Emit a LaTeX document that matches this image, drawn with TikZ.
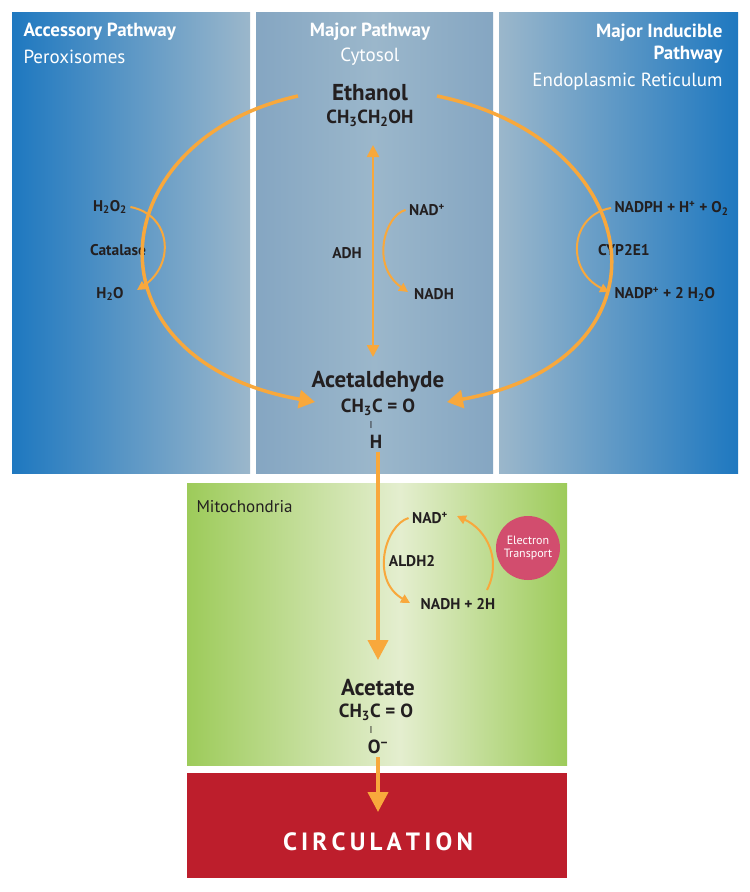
\documentclass[tikz,border=0pt]{standalone}
\usepackage{fontspec}
\setmainfont{PT Sans}
\usetikzlibrary{arrows.meta}
\definecolor{org}{HTML}{F8A83C}
\definecolor{dblue}{HTML}{1E78C0}
\definecolor{lblue}{HTML}{9BB7CB}
\definecolor{mblue}{HTML}{85A6C2}
\definecolor{lgreen}{HTML}{E4EECF}
\definecolor{dgreen}{HTML}{9DCB5A}
\definecolor{cred}{HTML}{BD1E2C}
\definecolor{pink}{HTML}{D24D6E}
\definecolor{txt}{HTML}{231F20}
\tikzset{
 big/.style={draw=org,line width=3.5pt,-{Triangle[length=16pt,width=18pt]}},
 thin/.style={draw=org,line width=2pt,-{Triangle[length=9pt,width=9pt]}},
 lab/.style={text=txt,font=\bfseries\fontsize{15.5}{17}\selectfont},
 mol/.style={text=txt,font=\bfseries\fontsize{23}{26}\selectfont},
 form/.style={text=txt,font=\bfseries\fontsize{19}{21}\selectfont},
 head/.style={text=white,font=\bfseries\fontsize{19}{22}\selectfont},
 sub/.style={text=white,font=\fontsize{19}{22}\selectfont},
}
\begin{document}
\begin{tikzpicture}[x=1pt,y=-1pt]
\useasboundingbox (0,0) rectangle (750,892);
\fill[white] (0,0) rectangle (750,892);
\shade[left color=dblue,right color=lblue] (12,12) rectangle (250,473);
\shade[left color=mblue,right color=lblue] (256,12) rectangle (374,473);
\shade[left color=lblue,right color=mblue] (374,12) rectangle (493,473);
\shade[left color=lblue,right color=dblue] (499,12) rectangle (738,473);
\shade[left color=dgreen,right color=lgreen] (187,483) rectangle (400,765);
\shade[left color=lgreen,right color=dgreen] (400,483) rectangle (567,765);
\fill[cred] (187,773) rectangle (567,878);

\node[head,anchor=west] (hl) at (20,32) {Accessory Pathway};
\node[sub,anchor=west] (sl) at (20,57) {Peroxisomes};
\node[head] (hm) at (370,32) {Major Pathway};
\node[sub] (sm) at (370,57) {Cytosol};
\node[head,anchor=east,align=right] (hr) at (726,44) {Major Inducible\\Pathway};
\node[sub,anchor=east] (sr) at (726,82) {Endoplasmic Reticulum};

\node[mol] (eth) at (370,93) {Ethanol};
\node[form] (ethf) at (370,118) {CH\textsubscript{3}CH\textsubscript{2}OH};
\node[mol] (ald) at (378,382) {Acetaldehyde};
\node[form] (aldf) at (378,407) {CH\textsubscript{3}C = O};
\node[form,font=\fontsize{10}{10}\selectfont] (ald1) at (371,425) {I};
\node[form] (aldh) at (376,442) {H};
\node[mol] (ace) at (378,688) {Acetate};
\node[form] (acef) at (376,712) {CH\textsubscript{3}C = O};
\node[form,font=\fontsize{10}{10}\selectfont] (ace1) at (371,730) {I};
\node[form] (aceo) at (378,747) {O\textsuperscript{−}};
\node[text=white,font=\bfseries\fontsize{25}{28}\selectfont] (circ) at (378,842) {C\,I\,R\,C\,U\,L\,A\,T\,I\,O\,N};
\node[text=txt,font=\fontsize{17}{20}\selectfont,anchor=west] (mito) at (193,507) {Mitochondria};

% left
\node[lab] (h2o2) at (110,207) {H\textsubscript{2}O\textsubscript{2}};
\node[lab] (cat) at (118,250) {Catalase};
\node[lab] (h2o) at (110,294) {H\textsubscript{2}O};
\draw[thin] (h2o2.east) .. controls (172,215) and (175,265) .. (137,290);
% middle
\node[lab] (nadp) at (427,210) {NAD\textsuperscript{+}};
\node[lab] (adh) at (347,253) {ADH};
\node[lab] (nadh) at (434,294) {NADH};
\draw[org,line width=2.5pt,{Triangle[length=12pt,width=12pt]}-{Triangle[length=12pt,width=12pt]}] (373,145) -- (373,357);
\draw[thin] (nadp.west) .. controls (385,215) and (370,265) .. (408,292);
% right
\node[lab,anchor=west] (nadph) at (611,208) {NADPH + H\textsuperscript{+} + O\textsubscript{2}};
\node[lab] (cyp) at (624,250) {CYP2E1};
\node[lab,anchor=west] (nadpo) at (611,294) {NADP\textsuperscript{+} + 2 H\textsubscript{2}O};
\draw[thin] (nadph.west) .. controls (570,215) and (565,270) .. (609,292);
% big arcs
\draw[big] (298,96) .. controls (100,140) and (80,360) .. (315,402);
\draw[big] (437,96) .. controls (650,140) and (680,360) .. (447,402);
% mito
\draw[draw=org,line width=4pt,-{Triangle[length=20pt,width=20pt]}] (378,452) -- (378,660);
\node[lab] (nad2) at (430,518) {NAD\textsuperscript{+}};
\node[lab] (aldh2) at (412,561) {ALDH2};
\node[lab] (nadh2) at (458,604) {NADH + 2H};
\draw[thin] (nad2.west) .. controls (385,525) and (370,580) .. (410,603);
\node[circle,fill=pink,minimum size=64pt,inner sep=0,text=white,align=center,font=\fontsize{12}{13}\selectfont] (et) at (528,548) {Electron\\Transport};
\draw[thin] (487,590) .. controls (502,560) and (487,530) .. (457,516);
\draw[draw=org,line width=4pt,-{Triangle[length=20pt,width=20pt]}] (aceo.south) -- (378,812);
\end{tikzpicture}
\end{document}
